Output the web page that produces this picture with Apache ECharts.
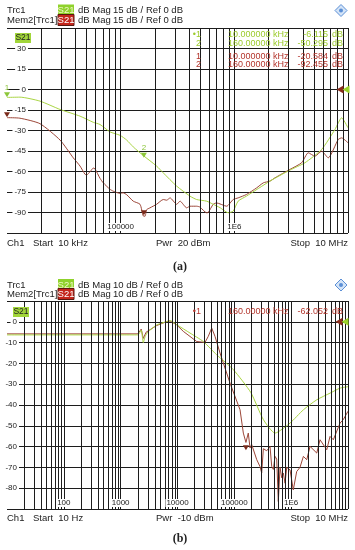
<!DOCTYPE html>
<html>
<head>
<meta charset="utf-8">
<script src="https://cdn.jsdelivr.net/npm/echarts@6/dist/echarts.min.js"></script>
<style>html,body{margin:0;padding:0;background:#fff}#c{width:355px;height:550px}</style>
</head>
<body>
<div id="c"></div>
<script>
// ---------- Panel (a): 10 kHz .. 10 MHz ----------
const aGreenFreq = [1e4, 1.3e4, 1.95e4, 2.93e4, 4.39e4, 5.74e4, 6.58e4, 8.05e4, 9.86e4, 1.13e5, 1.29e5, 1.58e5, 2.07e5, 2.37e5, 3.11e5, 4.07e5, 4.66e5, 5.7e5, 6.52e5, 7.5e5, 8.83e5, 9.77e5, 1.08e6, 1.28e6, 2.06e6, 3.08e6, 4.18e6, 5.86e6, 7.67e6, 8.79e6, 1e7];
const aGreenDb   = [-5.8, -5.6, -8.5, -14.6, -19.5, -24, -25.6, -31, -33.5, -37, -42, -48.3, -56, -61, -70.7, -78, -80.5, -81.7, -84, -86.5, -90.2, -89, -81.7, -78, -67, -59, -53.6, -43.9, -29.3, -20.7, -28];
const aRedFreq = [1e4, 1.3e4, 1.95e4, 2.93e4, 3.83e4, 4.39e4, 4.85e4, 5.02e4, 5.4e4, 5.74e4, 5.94e4, 6.58e4, 7.03e4, 8.05e4, 8.61e4, 9.86e4, 1.05e5, 1.13e5, 1.29e5, 1.48e5, 1.58e5, 1.64e5, 1.69e5, 1.81e5, 2.07e5, 2.37e5, 2.54e5, 2.72e5, 3.11e5, 3.33e5, 3.81e5, 4.07e5, 4.66e5, 4.98e5, 5.7e5, 5.89e5, 6.52e5, 6.98e5, 8.55e5, 9.77e5, 1.08e6, 1.28e6, 1.57e6, 1.8e6, 2.06e6, 2.28e6, 3.08e6, 3.91e6, 4.47e6, 5.12e6, 5.86e6, 6.7e6, 8.2e6, 8.79e6, 1e7];
const aRedDb   = [-20.6, -21, -25, -37, -50, -56, -62, -62.5, -60, -57.5, -58, -65, -68.3, -73, -74.4, -76, -75.6, -77, -81.7, -84, -92.5, -92.7, -88, -86.6, -84, -80.5, -81, -79.3, -84, -81.7, -86.6, -85.4, -85.4, -86, -90.2, -90, -84, -83, -85.4, -80.5, -79.3, -76.8, -72, -68.3, -67, -64.6, -58.5, -53.6, -46.3, -48.8, -45.1, -50, -36.6, -35.4, -39];
const aYTicks = [45, 30, 15, 0, -15, -30, -45, -60, -75, -90, -105];
const aXLabelValues = [1e5, 1e6];
const aXLabelTexts  = ['100000', '1E6'];
const aMarkersGreen = [[1e4, -6.115, '1'], [1.6e5, -50.295, '2']];
const aMarkersRed   = [[1e4, -20.584, '1'], [1.6e5, -92.455, '2']];
const aTableRows = [
  ['\u20221', '10.000000', 'kHz', '-6.115', 'dB', 'g'],
  ['2', '160.00000', 'kHz', '-50.295', 'dB', 'g'],
  ['1', '10.000000', 'kHz', '-20.584', 'dB', 'r'],
  ['2', '160.00000', 'kHz', '-92.455', 'dB', 'r']
];

// ---------- Panel (b): 10 Hz .. 10 MHz ----------
const bGreenFreq = [10, 100, 1000, 2000, 2300, 2500, 2700, 3000, 4300, 6460, 7400, 9700, 16600, 28500, 49000, 96000, 195000, 324000, 520000, 955000, 1.64e6, 2.82e6, 4.83e6, 7.24e6, 1e7];
const bGreenDb   = [-6.3, -6.3, -6.3, -6.3, -4, -10, -7, -5, -1.5, 0.1, 0.6, -1.4, -5.4, -9.5, -15.9, -23, -34, -47, -53.5, -48.7, -42.3, -37.5, -34.3, -31.9, -31.2];
const bRedFreq = [10, 100, 1000, 2000, 2300, 2500, 2800, 4300, 6460, 7400, 9700, 12650, 21800, 30500, 34800, 40000, 45700, 56000, 84000, 126000, 144000, 160000, 176000, 189000, 202000, 216000, 248000, 283000, 303000, 324000, 371000, 425000, 455000, 486000, 520000, 557000, 594000, 637000, 682000, 728000, 780000, 835000, 955000, 1.09e6, 1.25e6, 1.43e6, 1.64e6, 1.88e6, 2.15e6, 2.82e6, 3.22e6, 4.23e6, 4.83e6, 5.52e6, 7.24e6, 8.28e6, 1e7];
const bRedDb   = [-5.8, -5.8, -5.8, -5.8, -3.5, -8, -5, -1.8, 0.1, 0.4, -1.5, -4.6, -9.5, -9.9, -7, -3, -7, -15, -29.5, -42.3, -53.5, -58, -53.5, -60.7, -59, -58.3, -66.3, -69.6, -72.7, -61, -62, -60, -69.6, -71, -64.7, -66, -86.4, -70, -75, -72.7, -77.6, -70, -71.2, -80.8, -72, -70, -64.7, -66.3, -59.9, -63.1, -56.7, -61.5, -55.1, -56.7, -48.7, -47, -43];
const bYTicks = [10, 0, -10, -20, -30, -40, -50, -60, -70, -80, -90];
const bXLabelValues = [100, 1000, 10000, 100000, 1e6];
const bXLabelTexts  = ['100', '1000', '10000', '100000', '1E6'];
const bMarkersRed = [[1.6e5, -62.052, '1']];
const bTableRows = [
  ['\u20221', '160.00000', 'kHz', '-62.052', 'dB', 'r']
];

// ---------- helpers ----------
const FONT = '"Liberation Sans", Arial, sans-serif';
const GREEN = '#aad544';
const RED = '#9c4638';
const GRID = '#1c1c1c';
const TXT_G = '#9ccb2c';
const TXT_R = '#b3352c';

function pairs(f, d) { return f.map((x, i) => [x, d[i]]); }
function logGrid(lo, hi) {
  const out = [];
  for (let dec = lo; dec < hi; dec *= 10) {
    for (let m = 2; m <= 10; m++) out.push({ xAxis: dec * m });
  }
  return out;
}
function labelFmt(vals, texts) {
  return function (v) {
    for (let i = 0; i < vals.length; i++) if (Math.abs(Math.log10(v) - Math.log10(vals[i])) < 1e-6) return texts[i];
    return '';
  };
}

const chart = echarts.init(document.getElementById('c'), null, { renderer: 'canvas' });

function xAxisDef(gi, min, max, split, vals, texts) {
  return {
    type: 'log', logBase: 10, gridIndex: gi, min: min, max: max, splitNumber: split,
    axisLine: { show: false }, axisTick: { show: false }, splitLine: { show: false },
    z: 10,
    axisLabel: {
      inside: true, margin: 2, fontSize: 8, color: '#222', fontFamily: FONT,
      backgroundColor: '#fff', padding: [0, 1], showMinLabel: false, showMaxLabel: false,
      formatter: labelFmt(vals, texts)
    }
  };
}
function yAxisLines(gi, ticks) {
  return {
    type: 'value', gridIndex: gi, min: ticks[ticks.length - 1], max: ticks[0],
    interval: ticks[0] - ticks[1],
    axisLine: { show: false }, axisTick: { show: false }, axisLabel: { show: false },
    splitLine: { show: true, showMinLine: true, showMaxLine: true, lineStyle: { color: GRID, width: 1 } }
  };
}
function yAxisLabels(gi, ticks, margin) {
  return {
    type: 'value', gridIndex: gi, min: ticks[ticks.length - 1], max: ticks[0],
    interval: ticks[0] - ticks[1], position: 'left', z: 10,
    axisLine: { show: false }, axisTick: { show: false }, splitLine: { show: false },
    axisLabel: {
      inside: true, margin: margin, align: 'right', fontSize: 8, color: '#222', fontFamily: FONT,
      backgroundColor: '#fff', padding: [0, 2], showMinLabel: false, showMaxLabel: false
    }
  };
}
function markerPoints(list, color, showLabel) {
  return list.map(m => ({
    coord: [m[0], m[1]], symbol: 'triangle', symbolRotate: 180, symbolSize: [6, 5], symbolOffset: [0, -3],
    itemStyle: { color: color },
    label: { show: showLabel, formatter: m[2], position: 'top', distance: 1, fontSize: 8, color: color, fontFamily: FONT }
  }));
}
function refPoint(color, dx) {
  return {
    coord: [null, 0], symbol: 'triangle', symbolRotate: 90, symbolSize: [8, 7], symbolOffset: [dx, 0],
    itemStyle: { color: color }, label: { show: false }
  };
}

const series = [
  { type: 'line', xAxisIndex: 0, yAxisIndex: 0, data: [], z: 1, silent: true,
    markLine: { silent: true, symbol: ['none', 'none'], animation: false, label: { show: false },
      lineStyle: { color: GRID, width: 1, type: 'solid' }, emphasis: { disabled: true }, data: logGrid(1e4, 1e7) } },
  { type: 'line', xAxisIndex: 1, yAxisIndex: 2, data: [], z: 1, silent: true,
    markLine: { silent: true, symbol: ['none', 'none'], animation: false, label: { show: false },
      lineStyle: { color: GRID, width: 1, type: 'solid' }, emphasis: { disabled: true }, data: logGrid(10, 1e7) } },
  { name: 'a-mem', type: 'line', xAxisIndex: 0, yAxisIndex: 0, z: 3, data: pairs(aRedFreq, aRedDb), showSymbol: false,
    lineStyle: { color: RED, width: 1 }, smooth: 0.2,
    markPoint: { animation: false, data: markerPoints(aMarkersRed, '#7a2a1a', false).concat([
      Object.assign(refPoint('#8a2c1c', -8), { coord: [1e7, 0] })]) } },
  { name: 'a-trc', type: 'line', xAxisIndex: 0, yAxisIndex: 0, z: 4, data: pairs(aGreenFreq, aGreenDb), showSymbol: false,
    lineStyle: { color: GREEN, width: 1 }, smooth: 0.2,
    markPoint: { animation: false, data: markerPoints(aMarkersGreen, '#8cc63a', true).concat([
      Object.assign(refPoint('#9bd22a', -2), { coord: [1e7, 0] })]) } },
  { name: 'b-mem', type: 'line', xAxisIndex: 1, yAxisIndex: 2, z: 3, data: pairs(bRedFreq, bRedDb), showSymbol: false,
    lineStyle: { color: RED, width: 1 },
    markPoint: { animation: false, data: markerPoints(bMarkersRed, '#7a2a1a', false).concat([
      Object.assign(refPoint('#8a2c1c', -9), { coord: [1e7, 0] })]) } },
  { name: 'b-trc', type: 'line', xAxisIndex: 1, yAxisIndex: 2, z: 4, data: pairs(bGreenFreq, bGreenDb), showSymbol: false,
    lineStyle: { color: GREEN, width: 1 }, smooth: 0.2,
    markPoint: { animation: false, data: [Object.assign(refPoint('#9bd22a', -3), { coord: [1e7, 0] })] } }
];

function T(x, y, text, o) {
  o = o || {};
  return { type: 'text', x: x, y: y, z: 20, silent: true,
    style: { text: text, font: (o.font || ('9.5px ' + FONT)), fill: o.fill || '#222',
      align: o.align || 'left', verticalAlign: 'middle' } };
}
function R(x, y, w, h, fill, stroke) {
  return { type: 'rect', z: 19, silent: true, shape: { x: x, y: y, width: w, height: h },
    style: { fill: fill, stroke: stroke || null, lineWidth: 1 } };
}
function header(y1, y2, scale) {
  return [
    T(7, y1, 'Trc1'),
    R(58, y1 - 6, 16, 11, '#8fd22c'), T(66, y1, 'S21', { align: 'center', fill: '#f2f7c8' }),
    T(78, y1, 'dB Mag'), T(113, y1, scale + ' dB /'), T(146, y1, 'Ref 0 dB'),
    T(7, y2, 'Mem2[Trc1]'),
    R(58, y2 - 5.5, 16, 11, '#c4261c', '#5a1810'), T(66, y2, 'S21', { align: 'center', fill: '#fff' }),
    T(78, y2, 'dB Mag'), T(113, y2, scale + ' dB /'), T(146, y2, 'Ref 0 dB'),
    { type: 'polygon', z: 19, silent: true, shape: { points: [[341, y1 - 6], [347, y1], [341, y1 + 6], [335, y1]] },
      style: { fill: '#d4e4f7', stroke: '#5b8fd6', lineWidth: 1 } },
    { type: 'circle', z: 20, silent: true, shape: { cx: 341, cy: y1, r: 2 }, style: { fill: '#5b8fd6' } }
  ];
}
function footer(y, start, pwr, cap, capY) {
  return [
    T(7, y, 'Ch1'), T(33, y, 'Start  ' + start), T(156, y, 'Pwr  ' + pwr),
    T(348, y, 'Stop  10 MHz', { align: 'right' }),
    T(180, capY, cap, { align: 'center', font: 'bold 12px "Liberation Serif", "DejaVu Serif", serif' })
  ];
}
function table(rows, y0) {
  const out = [];
  rows.forEach((r, i) => {
    const y = y0[i];
    const c = r[5] === 'g' ? TXT_G : TXT_R;
    const o = { fill: c, font: '9px ' + FONT };
    out.push(T(201, y, r[0], Object.assign({ align: 'right' }, o)));
    out.push(T(228, y, r[1], o));
    out.push(T(273, y, r[2], o));
    out.push(T(328, y, r[3], Object.assign({ align: 'right' }, o)));
    out.push(T(332, y, r[4], o));
  });
  return out;
}
const graphics = [].concat(
  header(10.5, 20, '15'),
  [R(15, 33, 16, 10, '#a2d63a'), T(23, 38, 'S21', { align: 'center', font: '8.5px ' + FONT })],
  table(aTableRows, [35, 44, 57, 65]),
  footer(243, '10 kHz', '20 dBm', '(a)', 267),
  header(285, 294, '10'),
  [R(13, 307, 16, 10, '#a2d63a'), T(21, 312, 'S21', { align: 'center', font: '8.5px ' + FONT })],
  table(bTableRows, [312]),
  footer(518, '10 Hz', '-10 dBm', '(b)', 539)
);

chart.setOption({
  animation: false,
  backgroundColor: '#fff',
  grid: [
    { left: 7, right: 7, top: 28, height: 205 },
    { left: 7, right: 7, top: 301, height: 208 }
  ],
  xAxis: [
    xAxisDef(0, 1e4, 1e7, 3, aXLabelValues, aXLabelTexts),
    xAxisDef(1, 10, 1e7, 6, bXLabelValues, bXLabelTexts)
  ],
  yAxis: [
    yAxisLines(0, aYTicks), yAxisLabels(0, aYTicks, 21),
    yAxisLines(1, bYTicks), yAxisLabels(1, bYTicks, 12)
  ],
  series: series,
  graphic: graphics
});
</script>
</body>
</html>
